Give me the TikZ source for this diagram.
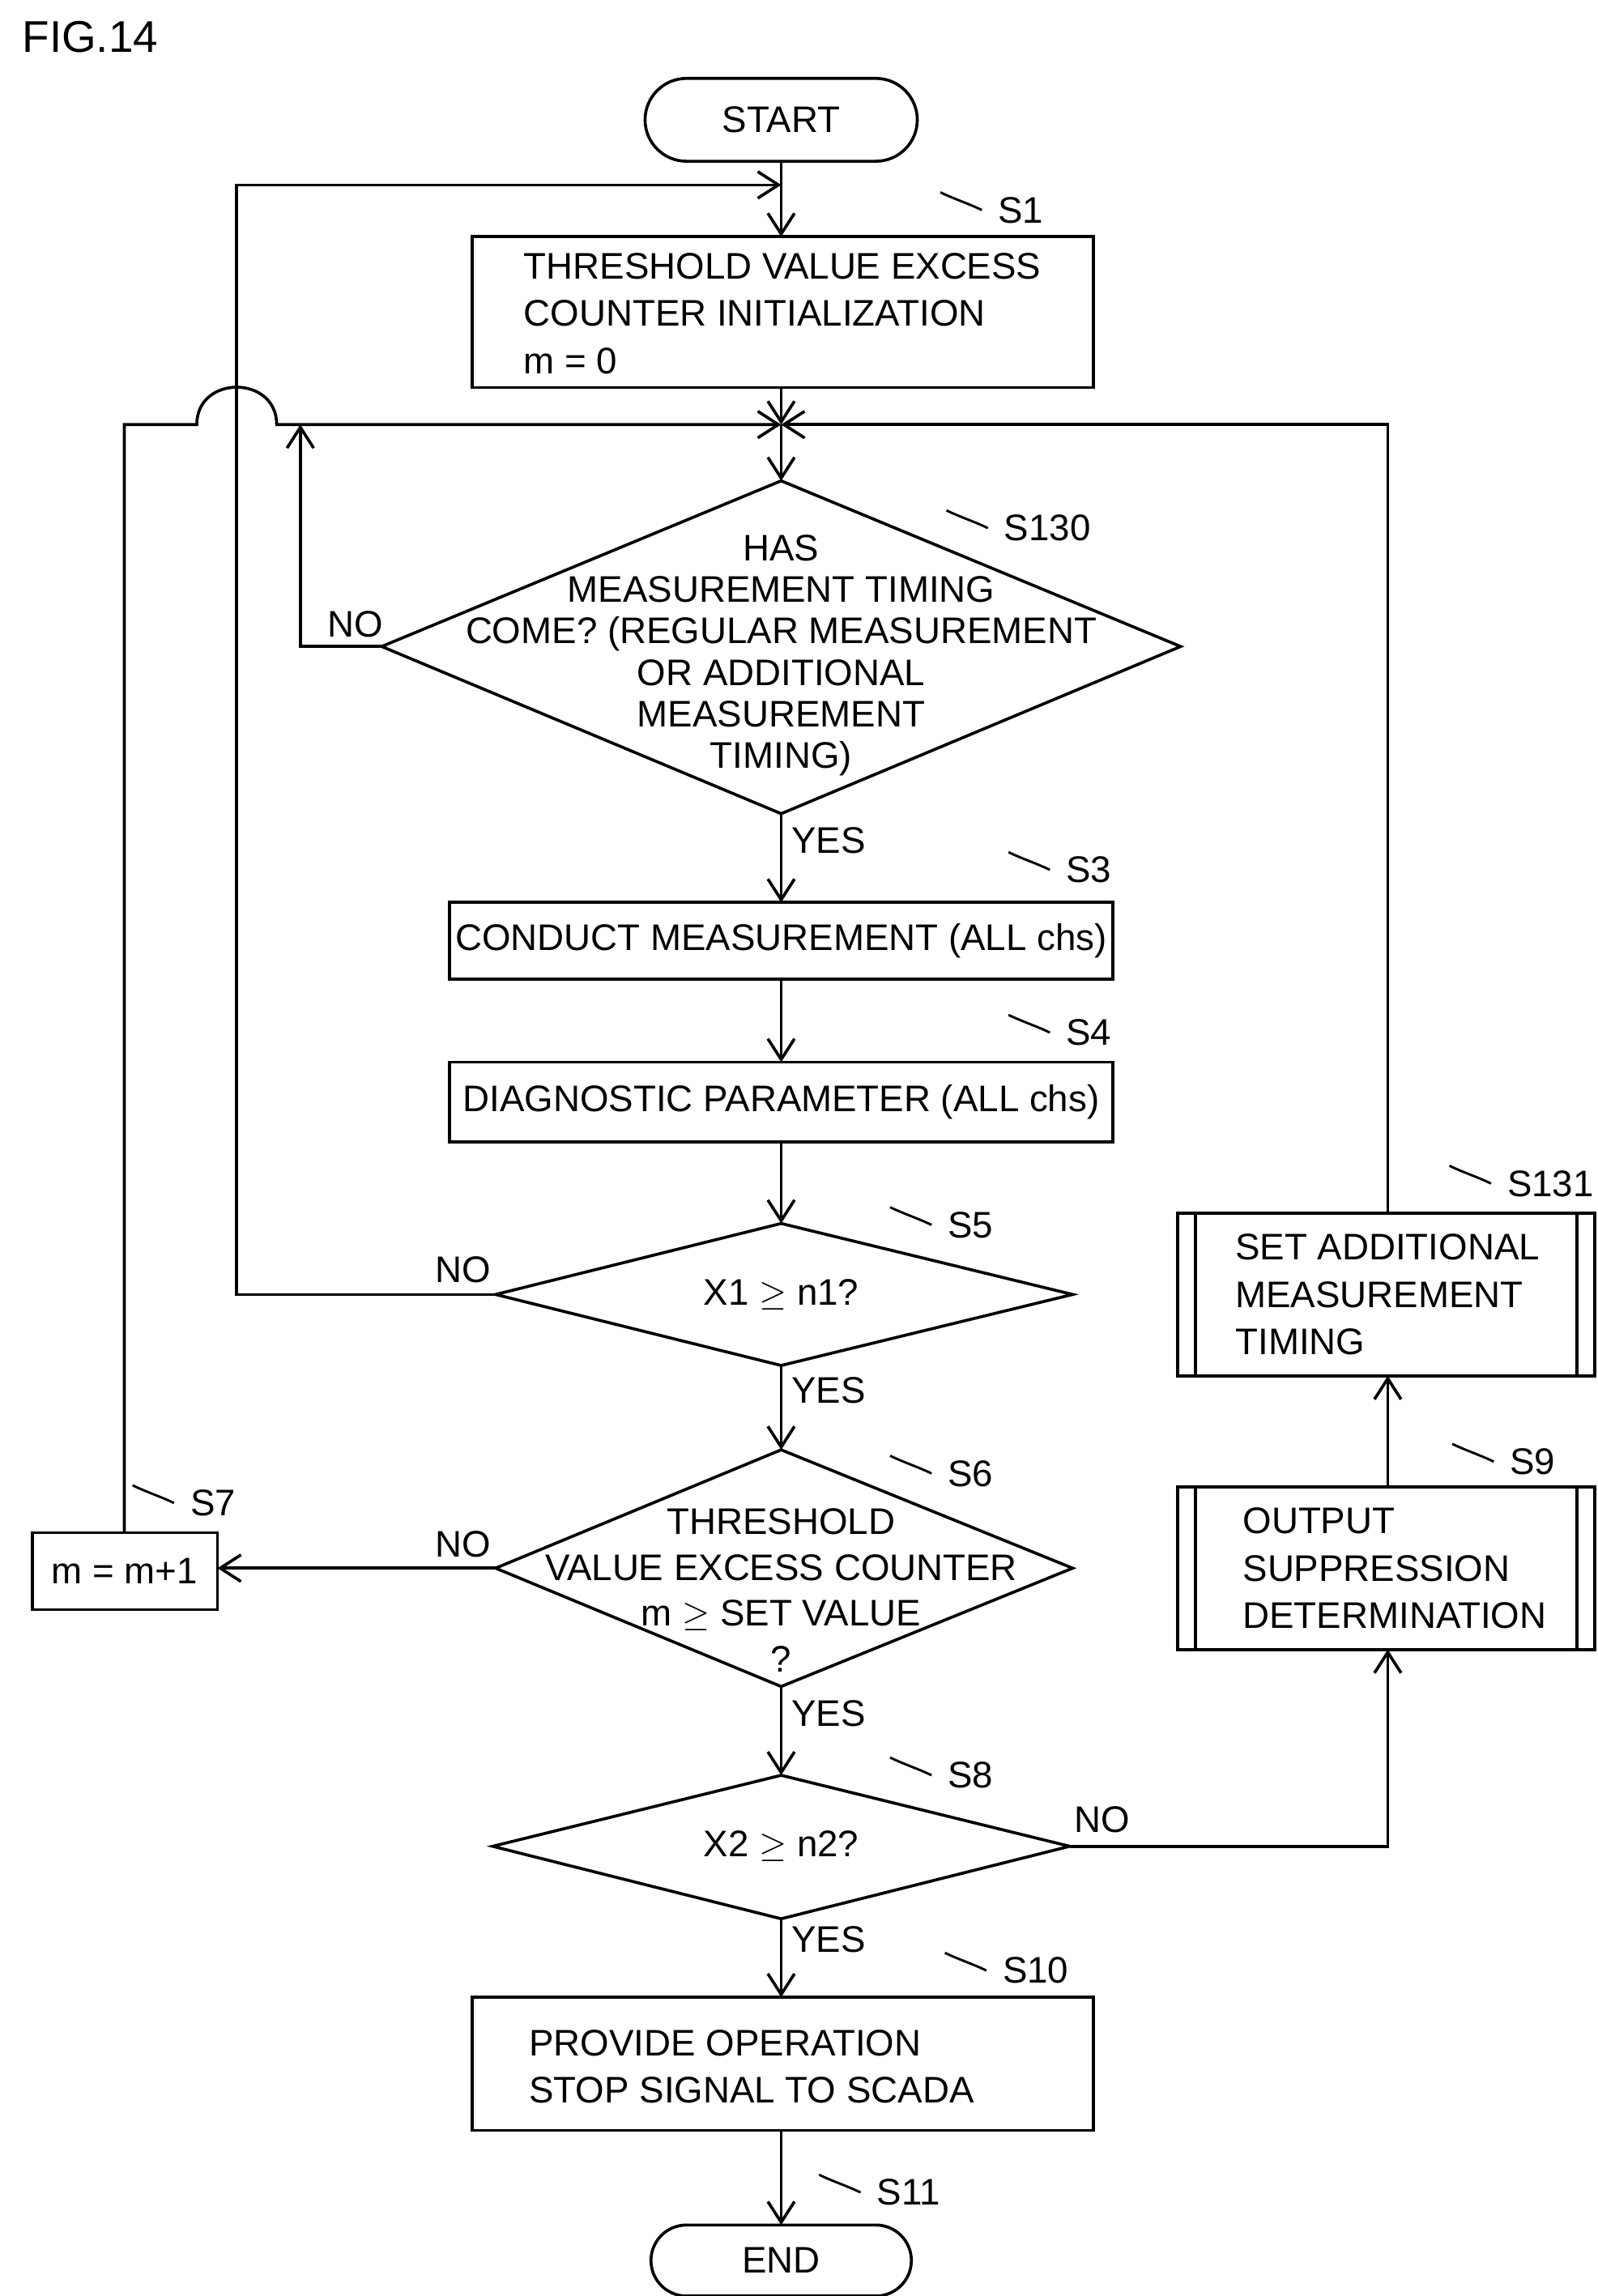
\documentclass[tikz,border=0pt]{standalone}
\usepackage{fontspec}
\setmainfont{Liberation Sans}
\usetikzlibrary{arrows.meta}
\begin{document}
\begin{tikzpicture}[x=0.5pt,y=-0.5pt,
 every node/.style={font=\fontsize{12.5}{16}\selectfont},
 box/.style={draw,line width=1pt,inner sep=0},
 ln/.style={line width=1pt},
 ar/.style={line width=1pt,-{Straight Barb[length=7pt,width=9pt]}},
 lab/.style={anchor=west,inner sep=1pt}]
\useasboundingbox (0,0) rectangle (1080,1552);
\node[anchor=west] (fig) at (8,25) {\fontsize{15}{18}\selectfont FIG.14};
% terminals
\draw[ln] (464,53) -- (592,53) arc(-90:90:28) -- (464,109) arc(90:270:28);
\node (start) at (528,81) {START};
\coordinate (starts) at (528,109);
\draw[ln] (464,1504) -- (592,1504) arc(-90:90:24) -- (464,1552) arc(90:270:24);
\node (end) at (528,1528) {END};
\coordinate (endn) at (528,1504);
% boxes
\draw[ln] (319,160) rectangle (739,262);
\node[align=left,anchor=north west] (s1) at (347,164) {THRESHOLD VALUE EXCESS\\COUNTER INITIALIZATION\\m = 0};
\draw[ln] (304,610) rectangle (752,662); \node (s3) at (528,636) {CONDUCT MEASUREMENT (ALL chs)};
\draw[ln] (304,718) rectangle (752,772); \node (s4) at (528,745) {DIAGNOSTIC PARAMETER (ALL chs)};
\draw[ln] (22,1036) rectangle (147,1088); \node (s7) at (84,1062) {m = m+1};
\draw[ln] (319,1350) rectangle (739,1440);
\node[align=left] (s10) at (508,1397) {PROVIDE OPERATION\\STOP SIGNAL TO SCADA};
\draw[ln] (796,820) rectangle (1078,930); \draw[ln] (808,820)--(808,930) (1066,820)--(1066,930);
\node[align=left,anchor=west] (s131) at (828,875) {SET ADDITIONAL\\MEASUREMENT\\TIMING};
\draw[ln] (796,1005) rectangle (1078,1115); \draw[ln] (808,1005)--(808,1115) (1066,1005)--(1066,1115);
\node[align=left,anchor=west] (s9) at (833,1060) {OUTPUT\\SUPPRESSION\\DETERMINATION};
% diamonds
\draw[ln] (528,325)--(798,437)--(528,550)--(258,437)--cycle;
\node[align=center,font=\fontsize{12.5}{14}\selectfont] (s130) at (528,443) {HAS\\MEASUREMENT TIMING\\COME? (REGULAR MEASUREMENT\\OR ADDITIONAL\\MEASUREMENT\\TIMING)};
\draw[ln] (528,827)--(725,875)--(528,923)--(335,875)--cycle; \node (s5) at (528,875) {X1 $\geq$ n1?};
\draw[ln] (528,980)--(725,1060)--(528,1140)--(335,1060)--cycle;
\node[align=center,font=\fontsize{12.5}{15.5}\selectfont] (s6) at (528,1075) {THRESHOLD\\VALUE EXCESS COUNTER\\m $\geq$ SET VALUE\\?};
\draw[ln] (528,1200)--(723,1248)--(528,1297)--(333,1248)--cycle; \node (s8) at (528,1248) {X2 $\geq$ n2?};
% connectors
\coordinate (m) at (528,287);
\draw[ar] (starts) -- (528,160);
\draw[ar] (528,262) -- (m);
\draw[ar] (m) -- (528,325);
\draw[ar] (528,550) -- (528,610);
\draw[ar] (528,662) -- (528,718);
\draw[ar] (528,772) -- (528,827);
\draw[ar] (528,923) -- (528,980);
\draw[ar] (528,1140) -- (528,1200);
\draw[ar] (528,1297) -- (528,1350);
\draw[ar] (528,1440) -- (endn);
\draw[ar] (258,437) -- (203,437) -- (203,287);
\draw[ar] (335,875) -- (160,875) -- (160,125) -- (528,125);
\draw[ar] (335,1060) -- (147,1060);
\draw[ar] (84,1036) -- (84,287) -- (133,287) to[out=90,in=90,looseness=1.6] (187,287) -- (m);
\draw[ar] (723,1248) -- (938,1248) -- (938,1115);
\draw[ar] (938,1005) -- (938,930);
\draw[ar] (938,820) -- (938,287) -- (m);
\node at (240,422) {NO}; \node at (313,858) {NO}; \node at (313,1044) {NO}; \node at (745,1230) {NO};
\node at (560,568) {YES}; \node at (560,940) {YES}; \node at (560,1158) {YES}; \node at (560,1311) {YES};
% step labels
\foreach \x/\y/\t in {690/142/S1,708/357/S130,736/588/S3,736/698/S4,656/828/S5,656/996/S6,144/1016/S7,656/1200/S8,1036/988/S9,700/1332/S10,614/1482/S11,1048/800/S131}{
 \node (L\t) at (\x,\y) {\t};
 \draw[line width=0.8pt] ([xshift=-2pt]L\t.west) .. controls +(-4pt,2pt) and +(4pt,-2pt) .. +(-14pt,6pt);
}
\end{tikzpicture}
\end{document}
